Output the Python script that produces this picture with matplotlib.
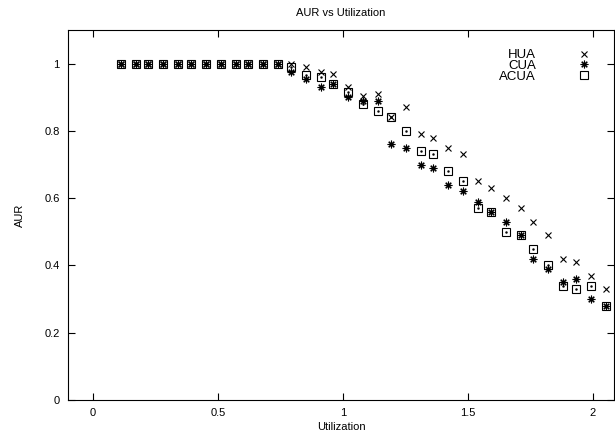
import matplotlib
matplotlib.use("Agg")
import matplotlib.pyplot as plt

utilization = [0.11, 0.17, 0.22, 0.28, 0.34, 0.39, 0.45, 0.51, 0.57, 0.62, 0.68, 0.74,
               0.79, 0.85, 0.91, 0.96, 1.02, 1.08, 1.14, 1.19, 1.25, 1.31, 1.36, 1.42,
               1.48, 1.54, 1.59, 1.65, 1.71, 1.76, 1.82, 1.88, 1.93, 1.99, 2.05]
hua = [1.0] * 12 + [1.0, 0.99, 0.976, 0.97, 0.93, 0.905, 0.91, 0.84, 0.87, 0.79, 0.78,
                    0.75, 0.73, 0.65, 0.63, 0.60, 0.57, 0.53, 0.49, 0.42, 0.41, 0.37, 0.33]
cua = [1.0] * 12 + [0.976, 0.955, 0.93, 0.94, 0.90, 0.89, 0.89, 0.76, 0.75, 0.70, 0.69,
                    0.64, 0.62, 0.59, 0.56, 0.53, 0.49, 0.42, 0.39, 0.35, 0.36, 0.30, 0.28]
acua = [1.0] * 12 + [0.99, 0.967, 0.96, 0.94, 0.917, 0.88, 0.86, 0.84, 0.80, 0.74, 0.73,
                     0.68, 0.65, 0.57, 0.56, 0.50, 0.49, 0.45, 0.40, 0.34, 0.33, 0.34, 0.28]
xticks = [0, 0.5, 1, 1.5, 2]
xtick_labels = ["0", "0.5", "1", "1.5", "2"]
yticks = [0, 0.2, 0.4, 0.6, 0.8, 1.0]
ytick_labels = ["0", "0.2", "0.4", "0.6", "0.8", "1"]

plt.rcParams['font.family'] = ['Liberation Sans', 'DejaVu Sans']
plt.rcParams['font.size'] = 8

fig = plt.figure(figsize=(6.15, 4.42), dpi=100)
ax = fig.add_axes([68/615, 42/442, (614-68)/615, (400-30)/442])

ax.plot(utilization, hua, linestyle='none', marker='x', markersize=5,
        markeredgewidth=0.8, color='black', label='HUA')
ax.plot(utilization, cua, linestyle='none', marker=(8, 2, 0), markersize=5.5,
        markeredgewidth=0.8, color='black', label='CUA')
ax.plot(utilization, acua, linestyle='none', marker='s', markersize=5.3,
        markerfacecolor='none', markeredgewidth=0.8, color='black', label='ACUA')
ax.plot(utilization, acua, linestyle='none', marker='.', markersize=1.5,
        color='black')

ax.set_xlim(-0.1, 2.084)
ax.set_ylim(0, 1.1)
ax.set_xticks(xticks)
ax.set_xticklabels(xtick_labels)
ax.set_yticks(yticks)
ax.set_yticklabels(ytick_labels)
ax.tick_params(direction='in', top=True, right=True, length=5, width=0.8, pad=6)
for s in ax.spines.values():
    s.set_linewidth(0.8)

ax.set_title('AUR vs Utilization', fontsize=8, pad=10)
ax.set_xlabel('Utilization', labelpad=3)
ax.set_ylabel('AUR', labelpad=14)

ax.legend(loc='upper right', frameon=False, markerfirst=False, handletextpad=3.1,
          labelspacing=-0.12, borderaxespad=0.0, handlelength=1.0, fontsize=9.5,
          bbox_to_anchor=(0.966, 0.963))

fig.savefig('out.png', dpi=100)
